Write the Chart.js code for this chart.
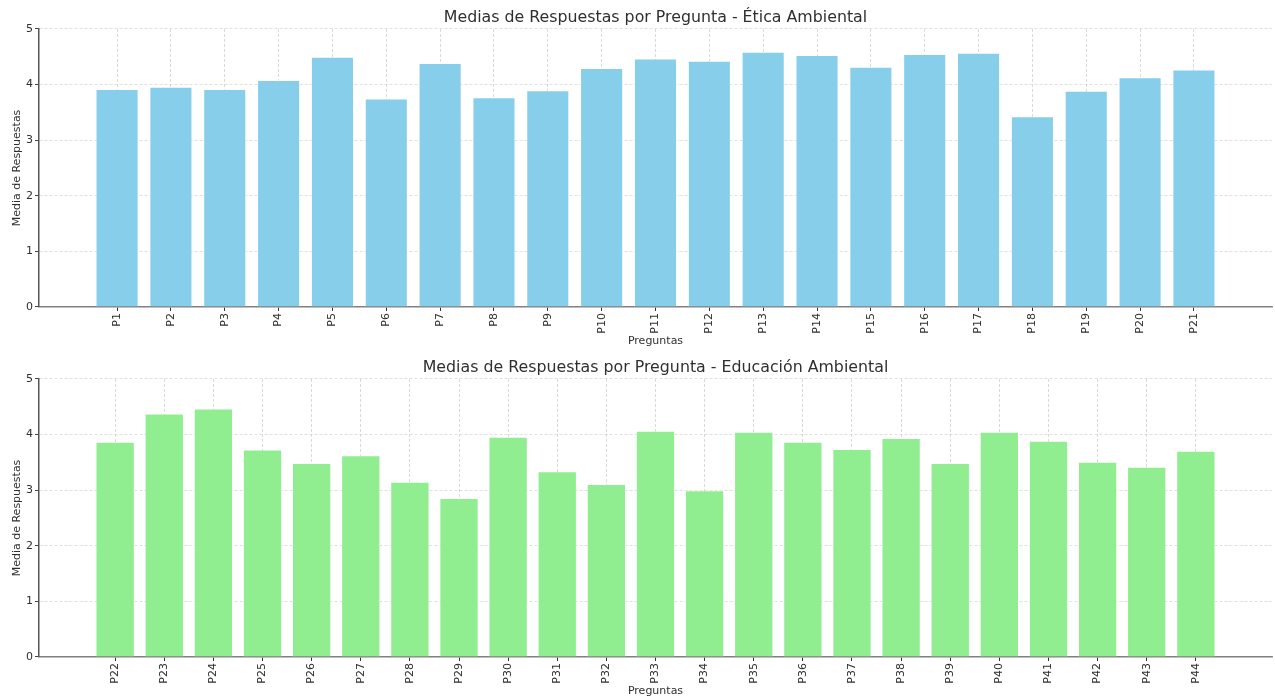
<!DOCTYPE html>
<html><head><meta charset="utf-8">
<script src="https://cdn.jsdelivr.net/npm/chart.js@4.4.1/dist/chart.umd.min.js"></script>
<style>
html,body{margin:0;padding:0;background:#fff;}
.box{position:relative;width:1275px;height:350px;}
</style></head><body>
<div class="box"><canvas id="c1"></canvas></div>
<div class="box"><canvas id="c2"></canvas></div>
<script>
const labelsEtica = ['P1','P2','P3','P4','P5','P6','P7','P8','P9','P10','P11','P12','P13','P14','P15','P16','P17','P18','P19','P20','P21'];
const valuesEtica = [3.92,3.96,3.92,4.08,4.50,3.75,4.39,3.77,3.90,4.30,4.47,4.43,4.59,4.53,4.32,4.55,4.57,3.43,3.89,4.13,4.27];
const labelsEdu = ['P22','P23','P24','P25','P26','P27','P28','P29','P30','P31','P32','P33','P34','P35','P36','P37','P38','P39','P40','P41','P42','P43','P44'];
const valuesEdu = [3.87,4.38,4.47,3.73,3.49,3.63,3.15,2.86,3.96,3.34,3.11,4.07,3.00,4.05,3.87,3.74,3.94,3.49,4.05,3.89,3.51,3.42,3.71];
const yTicks = [0,1,2,3,4,5];
const titleEtica = 'Medias de Respuestas por Pregunta - Ética Ambiental';
const titleEdu = 'Medias de Respuestas por Pregunta - Educación Ambiental';
const xTitle = 'Preguntas';
const yTitle = 'Media de Respuestas';

const FAM = '"DejaVu Sans", sans-serif';
const TXT = '#2f2f2f';

function makeChart(id, labels, values, color, title, pad) {
  new Chart(document.getElementById(id), {
    type: 'bar',
    data: {
      datasets: [{
        data: values.map((v, i) => ({x: i, y: v})),
        backgroundColor: color,
        borderColor: 'rgba(255,255,255,0.35)',
        borderWidth: 1,
        barPercentage: 0.8,
        categoryPercentage: 1.0
      }]
    },
    options: {
      responsive: true,
      maintainAspectRatio: false,
      animation: false,
      layout: {padding: {left: 0, right: 3, top: 0, bottom: 0}},
      plugins: {
        legend: {display: false},
        tooltip: {enabled: false},
        title: {display: true, text: title, color: TXT, fullSize: false,
                font: {family: FAM, size: 15.8, weight: 'normal'},
                padding: {top: 8, bottom: 2}}
      },
      scales: {
        x: {
          type: 'linear',
          min: -pad,
          max: labels.length - 1 + pad,
          offset: false,
          z: 1,
          afterBuildTicks: s => { s.ticks = labels.map((_, i) => ({value: i})); },
          afterFit: s => { s.height = 43; },
          ticks: {autoSkip: false, minRotation: 90, maxRotation: 90, padding: 2,
                  color: TXT, font: {family: FAM, size: 11},
                  callback: v => labels[v] ?? ''},
          grid: {offset: false, color: 'rgba(160,160,160,0.5)', lineWidth: 0.8,
                 tickColor: '#333', tickLength: 4, tickWidth: 1},
          border: {color: '#808080', width: 1.5, dash: [3, 2]},
          title: {display: true, text: xTitle, color: TXT,
                  font: {family: FAM, size: 11}, padding: {top: 0, bottom: 2}}
        },
        y: {
          min: 0,
          max: 5,
          afterBuildTicks: s => { s.ticks = yTicks.map(v => ({value: v})); },
          afterFit: s => { s.width = 39; },
          ticks: {padding: 2, color: TXT, font: {family: FAM, size: 11}},
          grid: {color: 'rgba(190,190,190,0.6)', lineWidth: 0.8,
                 tickColor: '#444', tickLength: 4, tickWidth: 1},
          border: {color: '#555', width: 1.5, dash: [3, 2]},
          title: {display: true, text: yTitle, color: TXT,
                  font: {family: FAM, size: 11}, padding: {top: 11, bottom: 0}}
        }
      }
    }
  });
}

makeChart('c1', labelsEtica, valuesEtica, '#87CEEB', titleEtica, 1.45);
makeChart('c2', labelsEdu, valuesEdu, '#90EE90', titleEdu, 1.55);
</script>
</body></html>
